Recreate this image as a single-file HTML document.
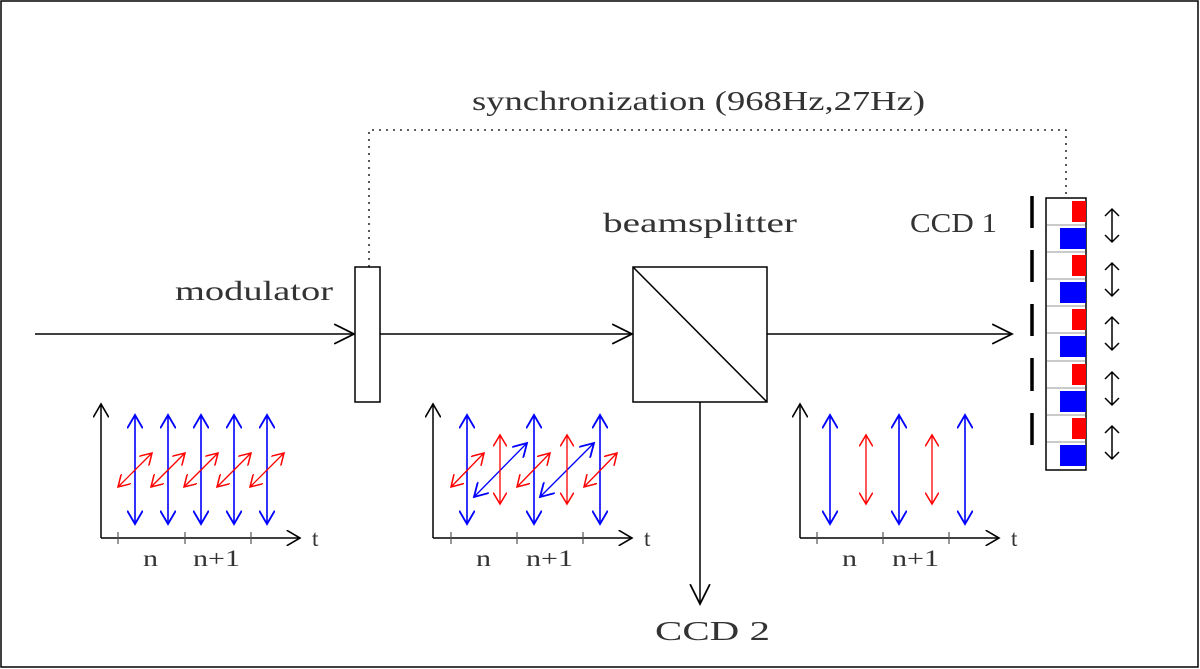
<!DOCTYPE html>
<html><head><meta charset="utf-8"><style>html,body{margin:0;padding:0;background:#fff}svg{display:block}</style></head><body>
<svg width="1200" height="669" viewBox="0 0 1200 669" xmlns="http://www.w3.org/2000/svg" font-family="'Liberation Serif', serif">
<defs>
<marker id="big" markerUnits="userSpaceOnUse" markerWidth="22" markerHeight="22" refX="18" refY="9" orient="auto-start-reverse" viewBox="0 0 20 18"><path d="M0,0 L18,9 L0,18" fill="none" stroke="#000" stroke-width="1.6"/></marker>
<marker id="k" markerUnits="userSpaceOnUse" markerWidth="16" markerHeight="16" refX="12" refY="7" orient="auto-start-reverse" viewBox="0 0 14 14"><path d="M0,0 L12,7 L0,14" fill="none" stroke="#000" stroke-width="1.4"/></marker>
<marker id="b" markerUnits="userSpaceOnUse" markerWidth="16" markerHeight="16" refX="12" refY="7" orient="auto-start-reverse" viewBox="0 0 14 14"><path d="M0,0 L12,7 L0,14" fill="none" stroke="#00f" stroke-width="1.6"/></marker>
<marker id="r" markerUnits="userSpaceOnUse" markerWidth="14" markerHeight="14" refX="10" refY="6" orient="auto-start-reverse" viewBox="0 0 12 12"><path d="M0,0 L10,6 L0,12" fill="none" stroke="#f00" stroke-width="1.3"/></marker>
</defs>
<rect x="1" y="1" width="1197" height="666" fill="none" stroke="#000" stroke-width="1.5"/>
<g font-size="27" fill="#333">
<text x="472" y="110" textLength="453" lengthAdjust="spacingAndGlyphs">synchronization (968Hz,27Hz)</text>
<text x="175" y="300" textLength="158" lengthAdjust="spacingAndGlyphs">modulator</text>
<text x="603" y="232" textLength="194" lengthAdjust="spacingAndGlyphs">beamsplitter</text>
<text x="910" y="232" textLength="87" lengthAdjust="spacingAndGlyphs">CCD 1</text>
<text x="655" y="640" textLength="115" lengthAdjust="spacingAndGlyphs">CCD 2</text>
</g>
<path d="M369,267 V130 H1066 V198" fill="none" stroke="#000" stroke-width="1.3" stroke-dasharray="2,5"/>
<g stroke="#000" stroke-width="1.5" fill="none">
<line x1="35" y1="334" x2="354" y2="334" marker-end="url(#big)"/>
<line x1="380" y1="334" x2="632" y2="334" marker-end="url(#big)"/>
<line x1="767" y1="334" x2="1012" y2="334" marker-end="url(#big)"/>
<line x1="700" y1="402" x2="700" y2="604" marker-end="url(#big)"/>
<rect x="355" y="267" width="25" height="135" fill="#fff"/>
<rect x="633" y="267" width="134" height="135" fill="#fff"/>
<line x1="633" y1="267" x2="767" y2="402"/>
</g>
<g>
<rect x="1046" y="198" width="40" height="272" fill="#fff" stroke="#000" stroke-width="1.5"/>
<g fill="#f00"><rect x="1072" y="201" width="14" height="21"/><rect x="1072" y="255" width="14" height="21"/><rect x="1072" y="309" width="14" height="21"/><rect x="1072" y="364" width="14" height="21"/><rect x="1072" y="418" width="14" height="21"/></g>
<g fill="#00f"><rect x="1060" y="228" width="26" height="21"/><rect x="1060" y="282" width="26" height="21"/><rect x="1060" y="336" width="26" height="21"/><rect x="1060" y="391" width="26" height="21"/><rect x="1060" y="445" width="26" height="21"/></g>
<g stroke="#aaa" stroke-width="1.2"><line x1="1047" y1="225" x2="1085" y2="225"/><line x1="1047" y1="252" x2="1085" y2="252"/><line x1="1047" y1="279" x2="1085" y2="279"/><line x1="1047" y1="306" x2="1085" y2="306"/><line x1="1047" y1="333" x2="1085" y2="333"/><line x1="1047" y1="361" x2="1085" y2="361"/><line x1="1047" y1="388" x2="1085" y2="388"/><line x1="1047" y1="415" x2="1085" y2="415"/><line x1="1047" y1="442" x2="1085" y2="442"/></g>
<g stroke="#000" stroke-width="3.5"><line x1="1032" y1="196" x2="1032" y2="228"/><line x1="1032" y1="250" x2="1032" y2="282"/><line x1="1032" y1="304" x2="1032" y2="336"/><line x1="1032" y1="358" x2="1032" y2="391"/><line x1="1032" y1="413" x2="1032" y2="445"/></g>
<g stroke="#000" stroke-width="1.5" fill="none">
<path d="M1112,209 V242 M1105,216 L1112,209 L1119,216 M1105,235 L1112,242 L1119,235"/>
<path d="M1112,263 V296 M1105,270 L1112,263 L1119,270 M1105,289 L1112,296 L1119,289"/>
<path d="M1112,317 V350 M1105,324 L1112,317 L1119,324 M1105,343 L1112,350 L1119,343"/>
<path d="M1112,372 V405 M1105,379 L1112,372 L1119,379 M1105,398 L1112,405 L1119,398"/>
<path d="M1112,426 V459 M1105,433 L1112,426 L1119,433 M1105,452 L1112,459 L1119,452"/>
</g>
</g>
<g stroke="#000" stroke-width="1.5" fill="none">
<path d="M101,538 V404" marker-end="url(#k)"/><path d="M101,538 H300" marker-end="url(#k)"/>
<path d="M433,538 V404" marker-end="url(#k)"/><path d="M433,538 H632" marker-end="url(#k)"/>
<path d="M800,538 V404" marker-end="url(#k)"/><path d="M800,538 H999" marker-end="url(#k)"/>
</g>
<g stroke="#555" stroke-width="1.2">
<line x1="118" y1="532" x2="118" y2="544"/><line x1="185" y1="532" x2="185" y2="544"/><line x1="251" y1="532" x2="251" y2="544"/>
<line x1="451" y1="532" x2="451" y2="544"/><line x1="517" y1="532" x2="517" y2="544"/><line x1="583" y1="532" x2="583" y2="544"/>
<line x1="817" y1="532" x2="817" y2="544"/><line x1="883" y1="532" x2="883" y2="544"/><line x1="949" y1="532" x2="949" y2="544"/>
</g>
<g font-size="23" fill="#333">
<text x="312" y="546">t</text><text x="143" y="566" textLength="15" lengthAdjust="spacingAndGlyphs">n</text><text x="193" y="566" textLength="47" lengthAdjust="spacingAndGlyphs">n+1</text>
<text x="644" y="546">t</text><text x="476" y="566" textLength="15" lengthAdjust="spacingAndGlyphs">n</text><text x="526" y="566" textLength="47" lengthAdjust="spacingAndGlyphs">n+1</text>
<text x="1011" y="546">t</text><text x="842" y="566" textLength="15" lengthAdjust="spacingAndGlyphs">n</text><text x="892" y="566" textLength="47" lengthAdjust="spacingAndGlyphs">n+1</text>
</g>
<g stroke="#00f" stroke-width="1.6" marker-start="url(#b)" marker-end="url(#b)">
<line x1="135" y1="415" x2="135" y2="524"/><line x1="168" y1="415" x2="168" y2="524"/><line x1="201" y1="415" x2="201" y2="524"/><line x1="234" y1="415" x2="234" y2="524"/><line x1="267" y1="415" x2="267" y2="524"/>
</g>
<g stroke="#f00" stroke-width="1.3" marker-start="url(#r)" marker-end="url(#r)">
<line x1="118" y1="487" x2="152" y2="453"/><line x1="151" y1="487" x2="185" y2="453"/><line x1="184" y1="487" x2="218" y2="453"/><line x1="217" y1="487" x2="251" y2="453"/><line x1="250" y1="487" x2="284" y2="453"/>
</g>
<g stroke="#00f" stroke-width="1.6" marker-start="url(#b)" marker-end="url(#b)">
<line x1="467" y1="415" x2="467" y2="524"/><line x1="534" y1="415" x2="534" y2="524"/><line x1="600" y1="415" x2="600" y2="524"/>
</g>
<g stroke="#00f" stroke-width="1.3" marker-start="url(#b)" marker-end="url(#b)">
<line x1="474" y1="497" x2="527" y2="443"/><line x1="540" y1="497" x2="594" y2="443"/>
</g>
<g stroke="#f00" stroke-width="1.3" marker-start="url(#r)" marker-end="url(#r)">
<line x1="500" y1="435" x2="500" y2="504"/><line x1="567" y1="435" x2="567" y2="504"/>
<line x1="451" y1="487" x2="484" y2="453"/><line x1="517" y1="487" x2="550" y2="453"/><line x1="584" y1="487" x2="617" y2="453"/>
</g>
<g stroke="#00f" stroke-width="1.6" marker-start="url(#b)" marker-end="url(#b)">
<line x1="830" y1="415" x2="830" y2="524"/><line x1="899" y1="415" x2="899" y2="524"/><line x1="965" y1="415" x2="965" y2="524"/>
</g>
<g stroke="#f00" stroke-width="1.3" marker-start="url(#r)" marker-end="url(#r)">
<line x1="866" y1="435" x2="866" y2="504"/><line x1="932" y1="435" x2="932" y2="504"/>
</g>
</svg>
</body></html>
